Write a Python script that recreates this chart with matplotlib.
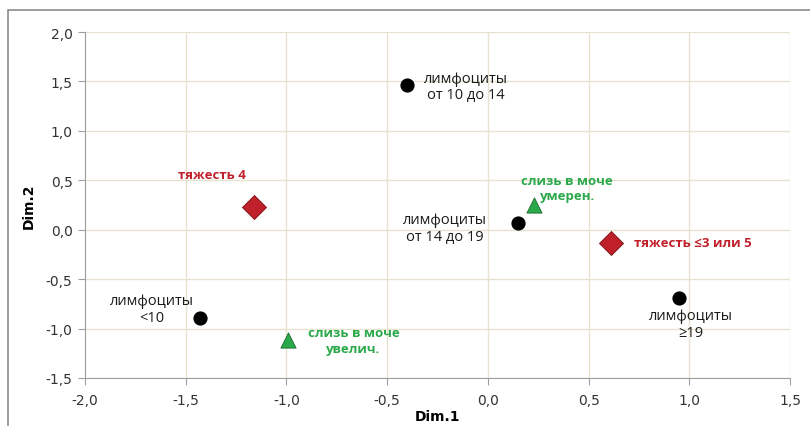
import matplotlib
matplotlib.use("Agg")
import matplotlib.pyplot as plt
from matplotlib.patches import Rectangle
from matplotlib.ticker import FuncFormatter

# Category coordinates on the first two dimensions
lymph_labels = ["лимфоциты\nот 10 до 14", "лимфоциты\nот 14 до 19", "лимфоциты\n≥19", "лимфоциты\n<10"]
lymph_x = [-0.40, 0.15, 0.95, -1.43]
lymph_y = [1.46, 0.07, -0.69, -0.89]
lymph_off = [(59, -1), (-73, -5), (12, -26), (-48, 9)]

severity_labels = ["тяжесть 4", "тяжесть ≤3 или 5"]
severity_x = [-1.16, 0.61]
severity_y = [0.23, -0.13]
severity_off = [(-42, 32), (23, 0)]
severity_ha = ["center", "left"]

mucus_labels = ["слизь в моче\nумерен.", "слизь в моче\nувелич."]
mucus_x = [0.23, -0.99]
mucus_y = [0.25, -1.12]
mucus_off = [(33, 17), (65, 0)]

x_ticks = [-2.0, -1.5, -1.0, -0.5, 0.0, 0.5, 1.0, 1.5]
y_ticks = [-1.5, -1.0, -0.5, 0.0, 0.5, 1.0, 1.5, 2.0]

red = "#C0202A"
green = "#2AA84A"

fig = plt.figure(figsize=(8.10, 4.27), dpi=100)
fig.patches.append(Rectangle((8 / 810, -0.1), 1.2, 1 - 11 / 427 + 0.1,
                             transform=fig.transFigure, fill=False,
                             edgecolor="#8c8c8c", linewidth=1.2, clip_on=False))
ax = fig.add_axes([85 / 810, 1 - 379 / 427, 705 / 810, 346 / 427])

ax.set_xlim(-2.0, 1.5)
ax.set_ylim(-1.5, 2.0)
ax.set_xticks(x_ticks)
ax.set_yticks(y_ticks)
fmt = FuncFormatter(lambda v, p: f"{v:.1f}".replace(".", ",").replace("-0,0", "0,0"))
ax.xaxis.set_major_formatter(fmt)
ax.yaxis.set_major_formatter(fmt)
ax.grid(True, color="#e6e2cc", linewidth=1.0)
ax.set_axisbelow(True)
for side in ("top", "right"):
    ax.spines[side].set_visible(False)
for side in ("left", "bottom"):
    ax.spines[side].set_color("#a0a0a0")
ax.tick_params(axis="both", colors="#a0a0a0", length=5, labelcolor="#333333",
               labelsize=10, pad=4)
ax.tick_params(axis="x", pad=6)

ax.set_xlabel("Dim.1", fontweight="bold", fontsize=10, labelpad=1)
ax.set_ylabel("Dim.2", fontweight="bold", fontsize=10, labelpad=7)

text_font = ["Open Sans", "DejaVu Sans"]

ax.scatter(lymph_x, lymph_y, s=85, color="black", zorder=3)
for x, y, lab, off in zip(lymph_x, lymph_y, lymph_labels, lymph_off):
    ax.annotate(lab, (x, y), xytext=off, textcoords="offset pixels",
                ha="center", va="center", fontsize=10.5, family=text_font,
                color="#1a1a1a", linespacing=1.15)

ax.scatter(severity_x, severity_y, marker="D", s=150, color=red,
           edgecolor="#7a1015", linewidth=0.6, zorder=3)
for x, y, lab, off, ha in zip(severity_x, severity_y, severity_labels, severity_off, severity_ha):
    ax.annotate(lab, (x, y), xytext=off, textcoords="offset pixels",
                ha=ha, va="center", fontsize=9.5, family=text_font,
                color=red, fontweight="bold")

ax.scatter(mucus_x, mucus_y, marker="^", s=120, color=green,
           edgecolor="#1d6b30", linewidth=0.6, zorder=3)
for x, y, lab, off in zip(mucus_x, mucus_y, mucus_labels, mucus_off):
    ax.annotate(lab, (x, y), xytext=off, textcoords="offset pixels",
                ha="center", va="center", fontsize=9.5, family=text_font,
                color=green, fontweight="bold", linespacing=1.25)

fig.savefig("out.png", dpi=100)
